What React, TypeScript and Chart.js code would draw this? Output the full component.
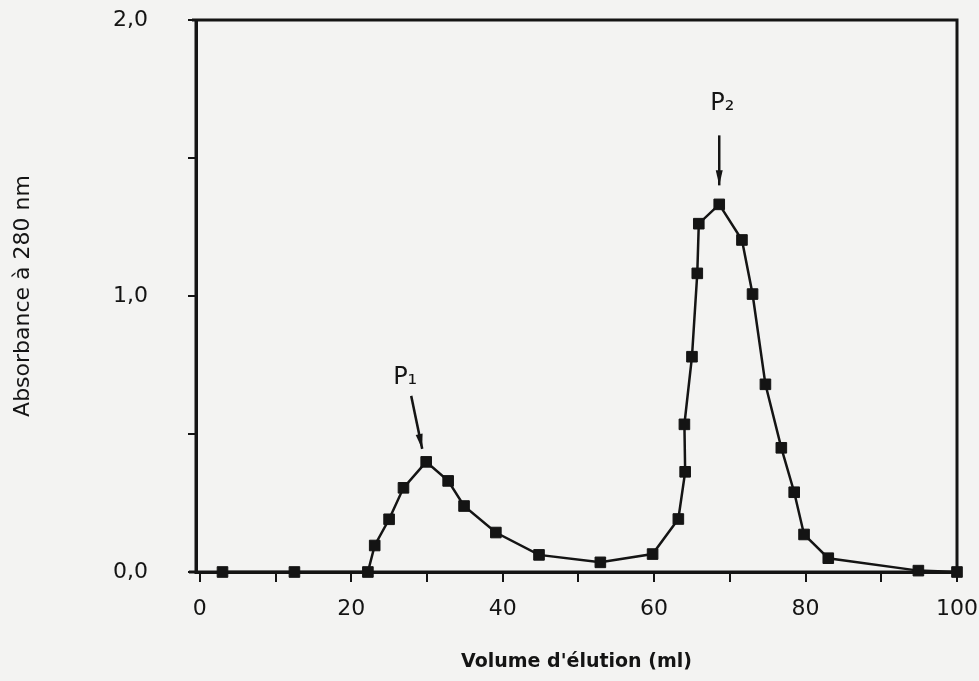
import React, { useEffect, useRef } from "react";
import { Chart, registerables } from "chart.js";

Chart.register(...registerables);

// Elution volume (ml) and absorbance at 280 nm
const elutionVolumes = [3.0, 12.5, 22.2, 23.1, 25.0, 26.9, 29.9, 32.8, 34.9, 39.1, 44.8, 52.9, 59.8, 63.2, 64.1, 64.0, 65.0, 65.7, 65.9, 68.6, 71.6, 73.0, 74.7, 76.8, 78.5, 79.8, 83.0, 94.9, 100];
const absorbance = [0, 0, 0, 0.096, 0.191, 0.305, 0.399, 0.33, 0.239, 0.143, 0.062, 0.035, 0.065, 0.192, 0.363, 0.535, 0.78, 1.082, 1.262, 1.332, 1.203, 1.007, 0.68, 0.45, 0.289, 0.136, 0.05, 0.005, 0];

const xTickValues = [0, 10, 20, 30, 40, 50, 60, 70, 80, 90, 100];
const xTickLabels = ["0", "", "20", "", "40", "", "60", "", "80", "", "100"];
const yTickValues = [0, 0.5, 1, 1.5, 2];
const yTickLabels = ["0,0", "", "1,0", "", "2,0"];

const xTitle = "Volume d'élution (ml)";
const yTitle = "Absorbance à 280 nm";

const peakNames = ["P₁", "P₂"];
const peakIndices = [6, 19];

const INK = "#141414";

export default function App() {
  const ref = useRef<HTMLCanvasElement | null>(null);

  useEffect(() => {
    if (!ref.current) return;

    const background = {
      id: "paper",
      beforeDraw(chart: any) {
        const { ctx, width, height } = chart;
        ctx.save();
        ctx.fillStyle = "#f3f3f2";
        ctx.fillRect(0, 0, width, height);
        ctx.restore();
      },
    };

    const frame = {
      id: "frame",
      beforeDatasetsDraw(chart: any) {
        const { ctx, chartArea } = chart;
        ctx.save();
        ctx.strokeStyle = INK;
        ctx.lineWidth = 3;
        ctx.beginPath();
        ctx.moveTo(chartArea.left - 7, chartArea.bottom);
        ctx.lineTo(chartArea.right, chartArea.bottom);
        ctx.lineTo(chartArea.right, chartArea.top);
        ctx.lineTo(chartArea.left - 4, chartArea.top);
        ctx.moveTo(chartArea.left, chartArea.top);
        ctx.lineTo(chartArea.left, chartArea.bottom + 2);
        ctx.stroke();
        ctx.restore();
      },
    };

    const arrowSpecs = [
      { label: [-21, -84], from: [-15, -66], to: [-4, -13] },
      { label: [3, -101], from: [0, -69], to: [0, -19] },
    ];

    const peaks = {
      id: "peaks",
      afterDatasetsDraw(chart: any) {
        const { ctx } = chart;
        const xs = chart.scales.x;
        const ys = chart.scales.y;
        ctx.save();
        peakIndices.forEach((idx, i) => {
          const px = xs.getPixelForValue(elutionVolumes[idx]);
          const py = ys.getPixelForValue(absorbance[idx]);
          const s = arrowSpecs[i];
          const x1 = px + s.from[0], y1 = py + s.from[1];
          const x2 = px + s.to[0], y2 = py + s.to[1];
          ctx.strokeStyle = INK;
          ctx.fillStyle = INK;
          ctx.lineWidth = 2.5;
          ctx.beginPath();
          ctx.moveTo(x1, y1);
          ctx.lineTo(x2, y2);
          ctx.stroke();
          const ang = Math.atan2(y2 - y1, x2 - x1);
          const len = 15, half = 3.5;
          const bx = x2 - len * Math.cos(ang), by = y2 - len * Math.sin(ang);
          ctx.beginPath();
          ctx.moveTo(x2, y2);
          ctx.lineTo(bx - half * Math.sin(ang), by + half * Math.cos(ang));
          ctx.lineTo(bx + half * Math.sin(ang), by - half * Math.cos(ang));
          ctx.closePath();
          ctx.fill();
          ctx.font = "24px 'DejaVu Sans'";
          ctx.textAlign = "center";
          ctx.textBaseline = "middle";
          ctx.fillText(peakNames[i], px + s.label[0], py + s.label[1]);
        });
        ctx.restore();
      },
    };

    const chart = new Chart(ref.current, {
      type: "scatter",
      data: {
        datasets: [
          {
            data: elutionVolumes.map((v, i) => ({ x: v, y: absorbance[i] })),
            showLine: true,
            borderColor: INK,
            borderWidth: 2.5,
            tension: 0,
            pointStyle: "rect",
            pointRadius: 7.5,
            pointBackgroundColor: INK,
            pointBorderColor: INK,
            pointBorderWidth: 1,
            clip: false,
          } as any,
        ],
      },
      options: {
        animation: false,
        responsive: false,
        devicePixelRatio: 1,
        layout: { padding: { left: 0, top: 20, right: 22, bottom: 0 } },
        plugins: { legend: { display: false }, tooltip: { enabled: false } },
        scales: {
          x: {
            type: "linear",
            min: -0.5,
            max: 100,
            afterBuildTicks: (scale: any) => {
              scale.ticks = xTickValues.map((v) => ({ value: v }));
            },
            afterFit: (scale: any) => {
              scale.height = 109;
              scale.paddingLeft = 0;
              scale.paddingRight = 0;
            },
            grid: {
              drawOnChartArea: false,
              drawTicks: true,
              tickLength: 10,
              color: INK,
              lineWidth: 2,
            },
            border: { display: true, color: INK, width: 3 },
            ticks: {
              color: INK,
              padding: 14,
              maxRotation: 0,
              autoSkip: false,
              font: { family: "'DejaVu Sans'", size: 22 },
              callback: (v: any) => {
                const k = xTickValues.indexOf(Number(v));
                return k >= 0 ? xTickLabels[k] : "";
              },
            },
            title: {
              display: true,
              text: xTitle,
              color: INK,
              font: { family: "'DejaVu Sans'", size: 19, weight: "bold" },
              padding: { top: 0, bottom: 8 },
            },
          },
          y: {
            type: "linear",
            min: 0,
            max: 2,
            afterBuildTicks: (scale: any) => {
              scale.ticks = yTickValues.map((v) => ({ value: v }));
            },
            afterFit: (scale: any) => {
              scale.width = 196;
              scale.paddingTop = 0;
              scale.paddingBottom = 0;
            },
            grid: {
              drawOnChartArea: false,
              drawTicks: true,
              tickLength: 8,
              color: INK,
              lineWidth: 2,
            },
            border: { display: true, color: INK, width: 3 },
            ticks: {
              color: INK,
              padding: 40,
              autoSkip: false,
              font: { family: "'DejaVu Sans'", size: 22 },
              callback: (v: any) => {
                const k = yTickValues.indexOf(Number(v));
                return k >= 0 ? yTickLabels[k] : "";
              },
            },
            title: {
              display: true,
              text: yTitle,
              color: INK,
              font: { family: "'DejaVu Sans'", size: 22 },
              padding: { top: 10, bottom: 0 },
            },
          },
        },
      },
      plugins: [background, frame, peaks],
    } as any);

    return () => chart.destroy();
  }, []);

  return (
    <div style={{ position: "fixed", left: 0, top: 0, width: 979, height: 681 }}>
      <canvas ref={ref} width={979} height={681} style={{ width: 979, height: 681, display: "block" }} />
    </div>
  );
}
